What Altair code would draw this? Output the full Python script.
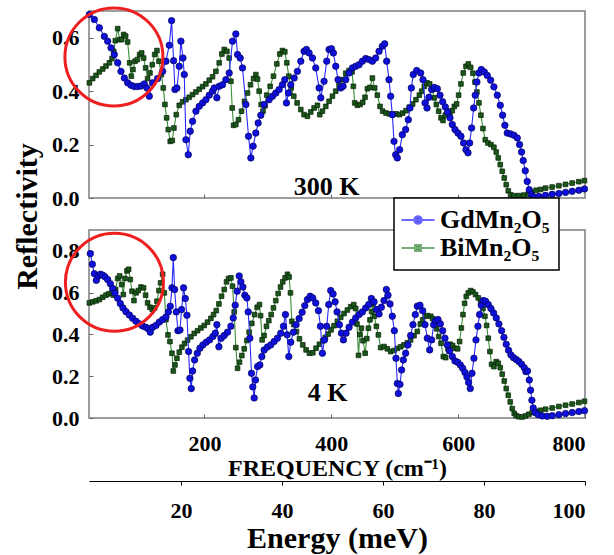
import altair as alt
import pandas as pd

FONT = "Liberation Serif"
CM_PER_MEV = 8.0655  # 1 meV expressed in cm^-1

# ---- reflectivity spectra: (frequency in cm^-1, reflectivity) ----
gd_300k = [
    (18.6, 0.687), (26.4, 0.668), (34.3, 0.637), (42.2, 0.605), (47.4, 0.587), (52.7, 0.562),
    (57.9, 0.537), (63.2, 0.506), (68.4, 0.474), (73.7, 0.449), (78.9, 0.431), (84.2, 0.422),
    (89.4, 0.417), (94.7, 0.417), (99.9, 0.419), (105.2, 0.427), (109.4, 0.412), (113.1, 0.381),
    (118.3, 0.431), (126.2, 0.447), (134.1, 0.474), (139.3, 0.512), (144.6, 0.572), (148.2, 0.664),
    (151.4, 0.514), (153.5, 0.406), (156.6, 0.412), (160.3, 0.493), (162.9, 0.587), (166.1, 0.524),
    (168.2, 0.462), (170.8, 0.218), (174.5, 0.162), (177.6, 0.25), (181.3, 0.287), (186.6, 0.325),
    (191.8, 0.343), (197.1, 0.356), (202.3, 0.368), (207.6, 0.385), (212.8, 0.4), (215.4, 0.412),
    (219.6, 0.375), (223.3, 0.418), (228.5, 0.424), (233.8, 0.443), (239.0, 0.468), (244.3, 0.587),
    (249.5, 0.614), (252.2, 0.537), (256.4, 0.524), (260.0, 0.487), (265.3, 0.35), (269.5, 0.231),
    (273.2, 0.15), (276.8, 0.194), (281.0, 0.243), (284.7, 0.281), (288.9, 0.31), (294.1, 0.35),
    (302.0, 0.368), (307.3, 0.381), (312.5, 0.393), (317.8, 0.406), (323.0, 0.424), (326.7, 0.443),
    (329.3, 0.356), (332.5, 0.393), (336.1, 0.424), (341.4, 0.449), (346.6, 0.474), (351.9, 0.512),
    (357.1, 0.549), (360.8, 0.556), (365.0, 0.543), (370.3, 0.524), (375.5, 0.487), (380.8, 0.412),
    (383.4, 0.375), (388.6, 0.437), (392.8, 0.512), (396.5, 0.556), (400.2, 0.559), (403.3, 0.543),
    (407.0, 0.493), (410.7, 0.443), (414.9, 0.412), (418.6, 0.418), (422.8, 0.443), (428.0, 0.468),
    (433.3, 0.487), (438.5, 0.493), (443.8, 0.499), (449.0, 0.512), (454.3, 0.522), (459.5, 0.518),
    (464.8, 0.512), (470.0, 0.524), (475.3, 0.549), (480.5, 0.568), (484.2, 0.577), (487.3, 0.512),
    (491.0, 0.443), (493.6, 0.381), (496.2, 0.312), (498.9, 0.212), (501.5, 0.162), (504.1, 0.15),
    (507.8, 0.181), (512.0, 0.237), (517.2, 0.256), (521.4, 0.293), (524.1, 0.337), (526.2, 0.412),
    (529.3, 0.462), (534.6, 0.477), (540.9, 0.468), (544.6, 0.443), (547.8, 0.356), (550.9, 0.337),
    (554.0, 0.377), (558.2, 0.406), (562.4, 0.414), (567.2, 0.409), (571.4, 0.385), (575.6, 0.36),
    (579.8, 0.341), (583.4, 0.322), (587.1, 0.3), (590.8, 0.275), (595.0, 0.256), (599.7, 0.243),
    (604.4, 0.231), (608.6, 0.206), (612.3, 0.181), (615.5, 0.169), (618.1, 0.206), (621.2, 0.262),
    (624.4, 0.337), (627.0, 0.385), (629.6, 0.434), (632.8, 0.468), (636.5, 0.481), (641.2, 0.472),
    (645.9, 0.459), (651.2, 0.441), (656.4, 0.416), (661.7, 0.385), (666.4, 0.347), (670.1, 0.31),
    (673.7, 0.272), (677.4, 0.243), (682.7, 0.24), (687.9, 0.235), (693.2, 0.225), (696.8, 0.2),
    (700.0, 0.172), (702.6, 0.14), (705.8, 0.102), (708.9, 0.062), (712.1, 0.031), (715.7, 0.012),
    (719.4, 0.004), (727.3, 0.006), (737.8, 0.01), (748.3, 0.014), (758.8, 0.017), (769.3, 0.021),
    (779.8, 0.025), (790.3, 0.029), (799.2, 0.034),
]

bi_300k = [
    (18.6, 0.431), (23.8, 0.447), (29.1, 0.459), (34.3, 0.472), (39.6, 0.483), (44.8, 0.494),
    (50.1, 0.506), (54.3, 0.522), (56.9, 0.549), (59.5, 0.589), (63.2, 0.634), (66.3, 0.593),
    (69.5, 0.593), (72.6, 0.612), (75.8, 0.606), (78.9, 0.584), (82.1, 0.506), (84.7, 0.456),
    (87.3, 0.481), (90.5, 0.512), (94.2, 0.518), (97.8, 0.537), (101.0, 0.543), (104.1, 0.524),
    (107.3, 0.487), (110.4, 0.447), (114.1, 0.468), (117.8, 0.499), (121.5, 0.537), (125.1, 0.552),
    (128.3, 0.512), (132.0, 0.462), (135.1, 0.412), (137.7, 0.35), (140.4, 0.3), (143.0, 0.256),
    (146.1, 0.212), (149.3, 0.215), (151.9, 0.262), (155.6, 0.312), (160.3, 0.347), (165.6, 0.36),
    (170.8, 0.368), (176.1, 0.377), (181.3, 0.387), (186.6, 0.397), (191.8, 0.407), (197.1, 0.417),
    (202.3, 0.427), (207.6, 0.441), (212.8, 0.454), (218.1, 0.474), (223.3, 0.506), (227.5, 0.539),
    (231.2, 0.556), (235.4, 0.549), (239.0, 0.524), (241.7, 0.437), (243.8, 0.337), (245.9, 0.272),
    (249.5, 0.275), (253.7, 0.293), (258.5, 0.325), (263.2, 0.362), (267.9, 0.393), (272.6, 0.424),
    (277.4, 0.447), (281.0, 0.462), (283.7, 0.445), (286.3, 0.4), (289.4, 0.35), (292.3, 0.325),
    (295.5, 0.345), (298.3, 0.385), (303.6, 0.418), (308.8, 0.456), (314.1, 0.502), (318.8, 0.539),
    (323.0, 0.552), (326.7, 0.547), (329.8, 0.506), (333.0, 0.456), (336.7, 0.412), (340.9, 0.381),
    (346.1, 0.356), (351.9, 0.331), (357.1, 0.312), (362.4, 0.306), (367.6, 0.322), (372.9, 0.337),
    (378.1, 0.347), (381.8, 0.312), (386.0, 0.325), (391.3, 0.343), (396.5, 0.362), (401.8, 0.381),
    (407.0, 0.4), (412.3, 0.422), (417.5, 0.443), (422.8, 0.467), (428.0, 0.477), (432.7, 0.472),
    (434.8, 0.418), (436.9, 0.356), (441.1, 0.347), (445.3, 0.35), (449.5, 0.358), (453.2, 0.377),
    (456.9, 0.409), (461.1, 0.414), (464.8, 0.449), (468.4, 0.412), (472.6, 0.385), (476.8, 0.343),
    (481.0, 0.325), (486.3, 0.318), (491.5, 0.315), (496.8, 0.312), (502.0, 0.315), (507.3, 0.312),
    (512.5, 0.318), (517.8, 0.327), (523.0, 0.34), (528.3, 0.352), (533.5, 0.368), (538.8, 0.385),
    (542.5, 0.4), (546.7, 0.418), (550.9, 0.431), (555.1, 0.427), (559.3, 0.406), (562.4, 0.375),
    (565.6, 0.35), (569.3, 0.325), (573.0, 0.3), (576.1, 0.29), (579.8, 0.31), (583.4, 0.325),
    (587.1, 0.318), (590.8, 0.327), (594.0, 0.343), (597.6, 0.352), (600.8, 0.385), (604.4, 0.427),
    (608.1, 0.468), (612.3, 0.493), (616.0, 0.502), (619.7, 0.489), (623.3, 0.467), (626.5, 0.434),
    (629.6, 0.397), (632.8, 0.356), (635.9, 0.31), (639.1, 0.26), (642.8, 0.218), (647.0, 0.206),
    (651.7, 0.2), (656.4, 0.19), (660.1, 0.172), (663.2, 0.15), (666.4, 0.125), (669.5, 0.1),
    (672.7, 0.075), (675.8, 0.05), (679.0, 0.027), (682.7, 0.012), (687.9, 0.009), (695.8, 0.009),
    (703.7, 0.011), (710.5, 0.015), (716.8, 0.022), (723.1, 0.029), (730.0, 0.032), (737.8, 0.037),
    (748.3, 0.041), (758.8, 0.046), (769.3, 0.051), (779.8, 0.056), (790.3, 0.061), (799.2, 0.065),
]

gd_4k = [
    (20.1, 0.787), (23.3, 0.736), (26.4, 0.691), (29.6, 0.659), (32.7, 0.68), (35.9, 0.688),
    (39.6, 0.684), (43.2, 0.676), (47.4, 0.663), (51.6, 0.643), (55.3, 0.62), (59.0, 0.598),
    (63.2, 0.573), (67.4, 0.548), (71.6, 0.527), (76.3, 0.509), (81.6, 0.493), (86.8, 0.477),
    (92.1, 0.463), (97.3, 0.451), (102.6, 0.44), (107.8, 0.434), (111.5, 0.427), (114.6, 0.411),
    (118.3, 0.434), (123.6, 0.443), (128.8, 0.459), (134.1, 0.471), (139.3, 0.484), (143.0, 0.508),
    (146.1, 0.535), (148.8, 0.623), (150.9, 0.768), (153.0, 0.615), (155.6, 0.508), (158.2, 0.418),
    (161.4, 0.421), (164.0, 0.519), (167.1, 0.623), (169.8, 0.572), (172.4, 0.492), (175.0, 0.318),
    (177.1, 0.19), (179.2, 0.141), (181.3, 0.225), (184.5, 0.278), (188.7, 0.31), (192.9, 0.334),
    (197.6, 0.35), (202.8, 0.363), (208.1, 0.374), (213.3, 0.39), (217.0, 0.406), (219.6, 0.447),
    (222.8, 0.341), (226.5, 0.382), (231.2, 0.395), (236.4, 0.411), (241.7, 0.439), (245.4, 0.479),
    (248.5, 0.54), (251.6, 0.607), (254.8, 0.68), (257.4, 0.652), (260.6, 0.627), (263.7, 0.588),
    (266.9, 0.575), (269.0, 0.508), (271.6, 0.382), (274.2, 0.214), (276.3, 0.149), (278.4, 0.096),
    (280.5, 0.182), (283.7, 0.246), (287.3, 0.254), (290.5, 0.294), (294.1, 0.325), (299.4, 0.34),
    (304.6, 0.35), (309.9, 0.366), (315.1, 0.382), (320.4, 0.406), (324.6, 0.439), (327.7, 0.495),
    (330.4, 0.398), (333.0, 0.294), (336.1, 0.363), (340.3, 0.411), (344.5, 0.447), (349.3, 0.476),
    (354.0, 0.506), (358.2, 0.538), (362.4, 0.567), (366.6, 0.583), (370.8, 0.575), (375.5, 0.551),
    (379.7, 0.514), (382.9, 0.439), (386.0, 0.31), (389.2, 0.374), (392.8, 0.439), (396.0, 0.543),
    (399.1, 0.61), (402.8, 0.594), (406.0, 0.556), (409.1, 0.508), (412.8, 0.447), (416.0, 0.406),
    (419.1, 0.374), (423.3, 0.406), (428.0, 0.434), (433.3, 0.459), (438.5, 0.479), (443.8, 0.495),
    (449.0, 0.508), (454.3, 0.527), (459.0, 0.543), (463.2, 0.572), (467.4, 0.556), (471.6, 0.519),
    (475.3, 0.498), (478.9, 0.53), (483.1, 0.562), (486.8, 0.615), (489.4, 0.588), (492.6, 0.546),
    (496.2, 0.487), (499.4, 0.418), (502.0, 0.286), (504.1, 0.165), (505.7, 0.117), (508.3, 0.161),
    (510.9, 0.23), (513.6, 0.278), (517.2, 0.31), (520.9, 0.35), (525.1, 0.395), (528.8, 0.447),
    (532.5, 0.495), (535.6, 0.535), (539.8, 0.54), (544.1, 0.514), (547.8, 0.447), (551.4, 0.382),
    (555.1, 0.326), (558.2, 0.374), (561.4, 0.447), (564.5, 0.466), (568.2, 0.471), (571.9, 0.451),
    (575.6, 0.418), (579.2, 0.382), (582.9, 0.35), (586.6, 0.321), (590.8, 0.294), (595.0, 0.273),
    (599.2, 0.267), (603.4, 0.254), (607.1, 0.238), (610.7, 0.218), (613.9, 0.196), (616.5, 0.17),
    (619.1, 0.141), (621.8, 0.214), (624.9, 0.286), (628.1, 0.374), (631.2, 0.439), (633.8, 0.495),
    (636.5, 0.54), (639.6, 0.562), (643.3, 0.559), (647.5, 0.543), (651.7, 0.524), (655.9, 0.503),
    (660.1, 0.479), (664.3, 0.45), (668.5, 0.418), (672.2, 0.386), (675.8, 0.353), (679.5, 0.324),
    (683.2, 0.302), (687.4, 0.289), (691.6, 0.28), (695.8, 0.27), (700.0, 0.257), (704.2, 0.241),
    (706.8, 0.222), (709.4, 0.225), (712.1, 0.182), (714.2, 0.133), (716.3, 0.085), (718.4, 0.048),
    (721.5, 0.026), (726.2, 0.016), (732.5, 0.01), (740.4, 0.008), (748.3, 0.011), (758.8, 0.016),
    (769.3, 0.021), (779.8, 0.026), (790.3, 0.031), (799.2, 0.035),
]

bi_4k = [
    (18.6, 0.551), (23.8, 0.556), (29.1, 0.561), (34.3, 0.567), (39.6, 0.578), (44.8, 0.588),
    (49.0, 0.594), (53.2, 0.598), (56.9, 0.588), (60.0, 0.615), (63.2, 0.668), (66.3, 0.68),
    (69.5, 0.639), (72.1, 0.591), (74.7, 0.668), (77.9, 0.704), (80.5, 0.712), (83.1, 0.663),
    (85.8, 0.607), (88.9, 0.562), (92.1, 0.599), (95.7, 0.61), (99.9, 0.627), (104.1, 0.623),
    (107.3, 0.588), (110.4, 0.551), (114.1, 0.53), (117.8, 0.519), (121.5, 0.527), (125.1, 0.559),
    (128.3, 0.61), (130.9, 0.647), (134.1, 0.688), (136.7, 0.599), (139.3, 0.471), (142.5, 0.398),
    (145.6, 0.366), (148.8, 0.31), (150.9, 0.225), (153.5, 0.254), (156.6, 0.286), (160.3, 0.315),
    (164.5, 0.339), (168.7, 0.357), (173.4, 0.373), (178.7, 0.389), (183.9, 0.405), (189.2, 0.418),
    (194.4, 0.431), (199.7, 0.443), (204.9, 0.459), (210.2, 0.477), (214.4, 0.495), (218.6, 0.514),
    (222.8, 0.546), (227.0, 0.583), (231.2, 0.615), (234.8, 0.652), (238.0, 0.668), (241.7, 0.671),
    (244.3, 0.631), (246.9, 0.508), (249.5, 0.337), (252.2, 0.238), (255.3, 0.267), (259.0, 0.299),
    (262.7, 0.331), (266.9, 0.371), (270.5, 0.411), (274.7, 0.453), (279.0, 0.495), (283.1, 0.53),
    (286.8, 0.543), (288.5, 0.49), (291.0, 0.374), (294.1, 0.395), (297.8, 0.439), (301.5, 0.466),
    (305.2, 0.495), (308.8, 0.527), (312.5, 0.562), (316.2, 0.596), (319.9, 0.627), (323.5, 0.652),
    (327.2, 0.671), (330.9, 0.688), (333.5, 0.675), (335.6, 0.599), (337.7, 0.463), (340.9, 0.447),
    (345.1, 0.414), (349.8, 0.379), (355.0, 0.35), (360.3, 0.326), (365.5, 0.31), (370.8, 0.312),
    (376.0, 0.334), (381.3, 0.353), (386.5, 0.369), (390.7, 0.386), (395.0, 0.402), (399.7, 0.422),
    (404.4, 0.442), (409.6, 0.463), (414.9, 0.482), (420.1, 0.5), (425.4, 0.517), (430.6, 0.533),
    (435.4, 0.543), (438.5, 0.524), (440.5, 0.45), (442.9, 0.3), (445.0, 0.4), (447.5, 0.43),
    (450.0, 0.37), (453.4, 0.31), (456.0, 0.38), (458.5, 0.43), (461.0, 0.47), (463.5, 0.51),
    (465.3, 0.546), (467.9, 0.487), (471.1, 0.439), (474.2, 0.398), (477.9, 0.337), (483.1, 0.342),
    (488.4, 0.331), (493.6, 0.318), (498.9, 0.323), (504.1, 0.333), (509.4, 0.341), (514.6, 0.35),
    (519.9, 0.36), (525.1, 0.374), (530.4, 0.394), (535.6, 0.414), (540.4, 0.45), (544.0, 0.47),
    (548.0, 0.488), (552.0, 0.49), (556.7, 0.487), (559.8, 0.476), (563.0, 0.459), (566.1, 0.427),
    (569.3, 0.39), (573.0, 0.358), (576.6, 0.294), (580.3, 0.289), (584.0, 0.331), (587.6, 0.353),
    (591.3, 0.347), (595.0, 0.334), (599.2, 0.331), (602.3, 0.366), (605.0, 0.431), (607.6, 0.495),
    (610.2, 0.549), (612.8, 0.582), (616.0, 0.599), (619.7, 0.61), (623.3, 0.604), (627.5, 0.591),
    (631.7, 0.575), (635.4, 0.553), (639.1, 0.524), (642.2, 0.487), (644.9, 0.443), (647.5, 0.382),
    (650.1, 0.318), (652.7, 0.257), (656.4, 0.246), (660.1, 0.27), (663.2, 0.262), (666.4, 0.241),
    (669.5, 0.21), (672.7, 0.177), (675.8, 0.141), (679.0, 0.109), (682.1, 0.077), (685.3, 0.045),
    (688.4, 0.022), (691.6, 0.011), (695.8, 0.006), (701.0, 0.005), (706.3, 0.01), (711.5, 0.018),
    (716.8, 0.026), (723.1, 0.032), (729.9, 0.037), (737.8, 0.042), (748.3, 0.048), (758.8, 0.055),
    (769.3, 0.061), (779.8, 0.067), (790.3, 0.074), (799.2, 0.08),
]

# ---- series styling ----
series_names = ["GdMn₂O₅", "BiMn₂O₅"]
line_colors = ["#2a2aff", "#3a8f3a"]
marker_fills = ["#1010dd", "#1b571b"]
marker_edges = ["#00005a", "#062006"]
marker_shapes = ["circle", "square"]
marker_sizes = [42, 22]
# legend keys: a short line with the series marker in its middle
legend_keys = [
    "M-1.65,0H1.65M-0.38,0A0.38,0.38,0,1,0,0.38,0A0.38,0.38,0,1,0,-0.38,0Z",
    "M-1.65,0H1.65M-0.3,-0.3H0.3V0.3H-0.3Z",
]

# ---- axes ----
freq_domain = [18, 800]
energy_domain = [1.8, 100]
freq_ticks = [200, 400, 600, 800]
energy_ticks = [20, 40, 60, 80, 100]
top_y_ticks = [0.0, 0.2, 0.4, 0.6]
bottom_y_ticks = [0.0, 0.2, 0.4, 0.6, 0.8]

# ---- annotations: temperature label and highlighted low-frequency region ----
temp_labels = ["300 K", "4 K"]
temp_label_freq = [392.5, 394.0]
temp_label_refl = [0.012, 0.083]
ring_freq = [57.3, 58.1]
ring_refl = [0.528, 0.65]

PANEL_W = 496


def frame(gd, bi):
    rows = [{"series": series_names[0], "freq": f, "refl": r} for f, r in gd]
    rows += [{"series": series_names[1], "freq": f, "refl": r} for f, r in bi]
    return pd.DataFrame(rows)


def freq_x(bottom):
    common = dict(tickSize=4, offset=-4, tickColor="#666666", domain=False, grid=False)
    if bottom:
        axis = alt.Axis(values=freq_ticks, labelFont=FONT, labelFontSize=22,
                        labelFontWeight="bold", labelColor="black", labelPadding=15,
                        title="FREQUENCY  (cm⁻¹)", titleFont=FONT, titleFontSize=24,
                        titleFontWeight="bold", titleColor="black", titleY=61,
                        titleBaseline="alphabetic", **common)
    else:
        axis = alt.Axis(values=freq_ticks[:3], labels=False, title=None, **common)
    return alt.X("freq:Q", scale=alt.Scale(domain=freq_domain, nice=False, zero=False), axis=axis)


def refl_y(ymax, ticks, with_title):
    kw = dict(values=ticks, format=".1f", labelFont=FONT, labelFontSize=22,
              labelFontWeight="bold", labelColor="black", labelPadding=10,
              tickSize=4, offset=-4, tickColor="#666666", domain=False, grid=False)
    if with_title:
        kw.update(title="Reflectivity", titleFont=FONT, titleFontSize=30,
                  titleFontWeight="bold", titleColor="black", titleAngle=270,
                  titleX=-57, titleY=205, titleAlign="center", titleBaseline="alphabetic")
    else:
        kw["title"] = None
    return alt.Y("refl:Q", scale=alt.Scale(domain=[0, ymax], nice=False), axis=alt.Axis(**kw))


def panel(idx, gd, bi, ymax, yticks, bottom):
    df = frame(gd, bi)
    X = freq_x(bottom)
    Y = refl_y(ymax, yticks, with_title=not bottom)
    layers = []
    for i in (1, 0):  # BiMn2O5 drawn underneath GdMn2O5
        src = alt.Chart(df).transform_filter(alt.datum.series == series_names[i])
        layers.append(src.mark_line(color=line_colors[i], strokeWidth=1.1).encode(x=X, y=Y))
        layers.append(src.mark_point(shape=marker_shapes[i], size=marker_sizes[i], filled=True,
                                     fill=marker_fills[i], stroke=marker_edges[i],
                                     strokeWidth=0.7, opacity=1).encode(x=X, y=Y))
    label_df = pd.DataFrame({"freq": [temp_label_freq[idx]], "refl": [temp_label_refl[idx]],
                             "label": [temp_labels[idx]]})
    layers.append(alt.Chart(label_df).mark_text(font=FONT, fontSize=26, fontWeight="bold",
                                                align="center", baseline="alphabetic",
                                                color="black").encode(x=X, y=Y, text="label:N"))
    ring_df = pd.DataFrame({"freq": [ring_freq[idx]], "refl": [ring_refl[idx]]})
    layers.append(alt.Chart(ring_df).mark_point(shape="circle", size=9604, filled=False,
                                                color="#ee1f1f", strokeWidth=3,
                                                opacity=1).encode(x=X, y=Y))
    if bottom:
        legend = alt.Legend(orient="none", legendX=305, legendY=187, title=None,
                            labelFont=FONT, labelFontSize=26, labelFontWeight="bold",
                            labelColor="black", symbolSize=400, symbolStrokeWidth=2,
                            symbolOffset=2, labelOffset=9, rowPadding=2, padding=9)
        key = (alt.Chart(df).transform_filter("false")
               .mark_point(filled=True, size=400, strokeWidth=2)
               .encode(color=alt.Color("series:N", scale=alt.Scale(domain=series_names, range=marker_fills), legend=legend),
                       stroke=alt.Stroke("series:N", scale=alt.Scale(domain=series_names, range=line_colors), legend=legend),
                       shape=alt.Shape("series:N", scale=alt.Scale(domain=series_names, range=legend_keys), legend=legend)))
        layers.append(key)
        main = alt.layer(*layers)
        energy = (alt.Chart(df)
                  .transform_calculate(energy=f"datum.freq / {CM_PER_MEV}")
                  .mark_point(opacity=0)
                  .encode(x=alt.X("energy:Q",
                                  scale=alt.Scale(domain=energy_domain, nice=False, zero=False),
                                  axis=alt.Axis(orient="bottom", offset=63, values=energy_ticks,
                                                labelFont=FONT, labelFontSize=22,
                                                labelFontWeight="bold", labelColor="black",
                                                labelPadding=15, tickSize=4, tickColor="black",
                                                domainColor="black", domainWidth=1.2, grid=False,
                                                title="Energy (meV)", titleFont=FONT,
                                                titleFontSize=30, titleFontWeight="bold",
                                                titleColor="black", titleY=66,
                                                titleBaseline="alphabetic")),
                          y=Y))
        return alt.layer(main, energy).resolve_scale(x="independent").properties(width=PANEL_W, height=188)
    return alt.layer(*layers).properties(width=PANEL_W, height=187)


top = panel(0, gd_300k, bi_300k, 0.7, top_y_ticks, bottom=False)
bottom = panel(1, gd_4k, bi_4k, 0.9, bottom_y_ticks, bottom=True)

chart = (
    alt.vconcat(top, bottom, spacing=32, bounds="flush")
    .resolve_scale(x="independent", y="independent")
    .properties(padding={"left": 11, "top": 1, "right": 4, "bottom": 2}, background="white")
    .configure_view(stroke="#7f7f7f", strokeWidth=1.5)
    .configure_legend(strokeColor="black", fillColor="white", strokeWidth=1.5)
)

chart.save("out.html", embed_options={"renderer": "svg", "actions": False})
